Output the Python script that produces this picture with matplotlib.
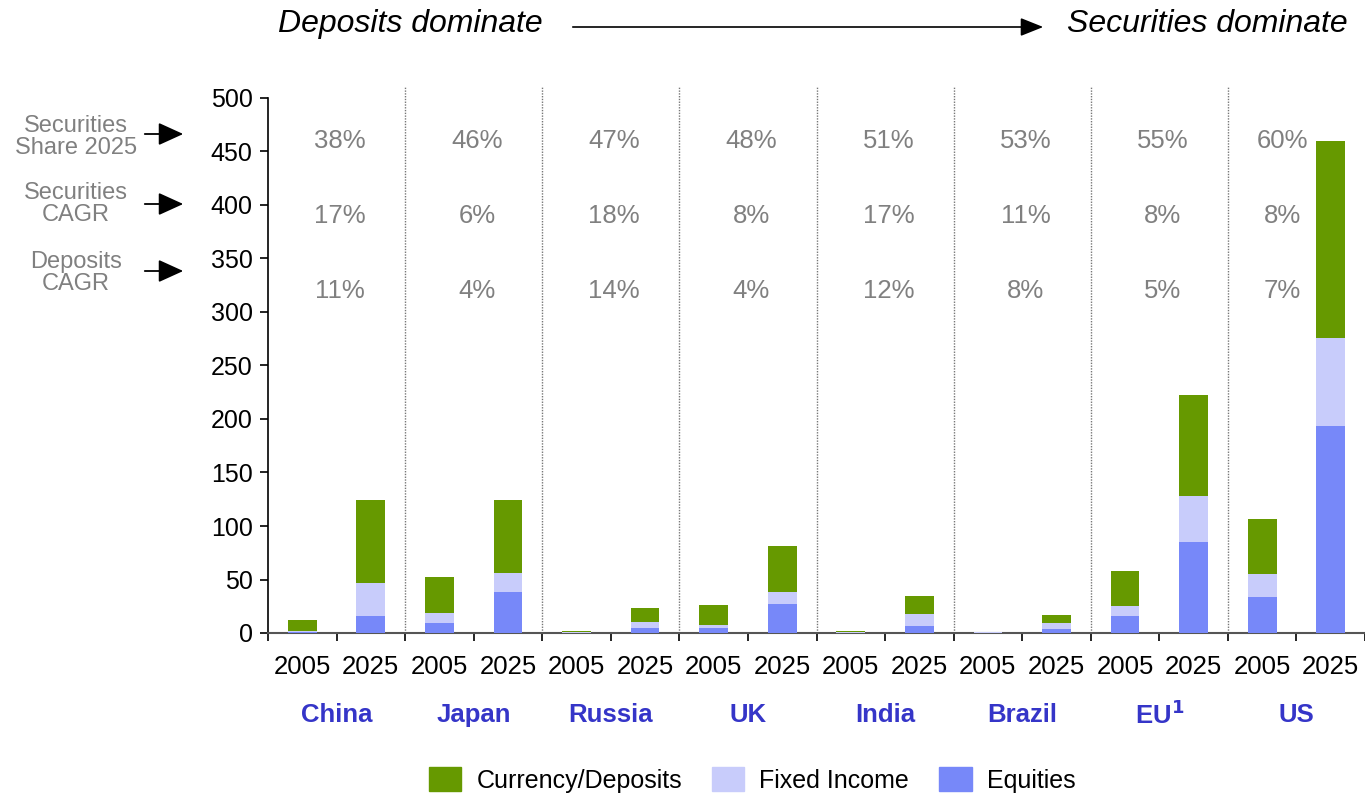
import numpy as np
import matplotlib.pyplot as plt
from matplotlib.patches import Patch, FancyArrowPatch
from matplotlib.transforms import blended_transform_factory

plt.rcParams['font.family'] = ['Liberation Sans', 'DejaVu Sans']

groups = ['China', 'Japan', 'Russia', 'UK', 'India', 'Brazil', 'EU$^{\\mathbf{1}}$', 'US']
years = ['2005', '2025']

# stacked values per bar, order: China 2005, China 2025, Japan 2005, ...
equities = [1, 16, 9, 38, 0.3, 4.5, 4.5, 27, 0.3, 6.5, 0.4, 4, 16, 85, 34, 193]
fixed_income = [0.5, 31, 9.5, 18, 0.2, 5.5, 3, 11, 0.2, 11, 0.2, 5, 9, 43, 21.5, 83]
deposits = [10.5, 77, 34, 68, 1, 13, 18.5, 43, 1, 17, 0.2, 7.5, 33, 94, 51, 184]

sec_share = ['38%', '46%', '47%', '48%', '51%', '53%', '55%', '60%']
sec_cagr = ['17%', '6%', '18%', '8%', '17%', '11%', '8%', '8%']
dep_cagr = ['11%', '4%', '14%', '4%', '12%', '8%', '5%', '7%']

c_dep = '#669900'
c_fi = '#c8ccfb'
c_eq = '#7788f9'
grey = '#808080'
blue_txt = '#3535c8'

fig = plt.figure(figsize=(13.65, 7.96), dpi=100)
ax = fig.add_axes([268 / 1365, 1 - 633 / 796, 1097 / 1365, 535 / 796])

x = np.arange(len(equities))
eq = np.array(equities)
fi = np.array(fixed_income)
dp = np.array(deposits)
w = 0.42
ax.bar(x, eq, w, color=c_eq, zorder=3)
ax.bar(x, fi, w, bottom=eq, color=c_fi, zorder=3)
ax.bar(x, dp, w, bottom=eq + fi, color=c_dep, zorder=3)

ax.set_xlim(-0.5, len(x) - 0.5)
ax.set_ylim(0, 500)
ax.set_yticks(np.arange(0, 501, 50))
ax.set_xticks(np.arange(-0.5, len(x), 1.0))
ax.set_xticklabels([])
ax.tick_params(axis='both', direction='out', length=6, width=1.2, labelsize=18, colors='black')
ax.tick_params(axis='y', pad=5)
for s in ['top', 'right']:
    ax.spines[s].set_visible(False)
ax.spines['left'].set_linewidth(1.2)
ax.spines['bottom'].set_linewidth(1.5)
ax.spines['bottom'].set_color('#555555')

# group separators
for b in np.arange(1.5, len(x) - 1, 2):
    ax.axvline(b, ymin=0, ymax=1.02, color='#777777', lw=1, ls=(0, (1, 1)), clip_on=False, zorder=1)

tr = blended_transform_factory(ax.transData, ax.transAxes)
for i in x:
    ax.text(i, -0.064, years[i % 2], transform=tr, ha='center', va='center', fontsize=18.5)
for g, name in enumerate(groups):
    cx = 2 * g + 0.5
    ax.text(cx, -0.153, name, transform=tr, ha='center', va='center', fontsize=18.5,
            fontweight='bold', color=blue_txt)
    lx = cx - 0.2 if g == len(groups) - 1 else cx + 0.05
    ax.text(lx, 460, sec_share[g], ha='center', va='center', fontsize=18.5, color=grey)
    ax.text(lx, 390, sec_cagr[g], ha='center', va='center', fontsize=18.5, color=grey)
    ax.text(lx, 320, dep_cagr[g], ha='center', va='center', fontsize=18.5, color=grey)

# row captions on the left
captions = [('Securities\nShare 2025', 137, 134), ('Securities\nCAGR', 204, 204), ('Deposits\nCAGR', 273, 271)]
for txt, ty, ay in captions:
    fig.text(76 / 1365, 1 - ty / 796, txt, ha='center', va='center', fontsize=17, color=grey,
             linespacing=1.0)
    fig.patches.append(FancyArrowPatch(
        (142 / 1365, 1 - ay / 796), (186 / 1365, 1 - ay / 796), transform=fig.transFigure,
        arrowstyle='-|>,head_length=1.1,head_width=0.5', mutation_scale=14, color='black', lw=1.3))

# header
fig.text(278 / 1365, 1 - 24 / 796, 'Deposits dominate', ha='left', va='center', fontsize=23, style='italic')
fig.text(1348 / 1365, 1 - 24 / 796, 'Securities dominate', ha='right', va='center', fontsize=23, style='italic')
fig.patches.append(FancyArrowPatch(
    (570 / 1365, 1 - 27 / 796), (1046 / 1365, 1 - 27 / 796), transform=fig.transFigure,
    arrowstyle='-|>,head_length=1.0,head_width=0.4', mutation_scale=14, color='black', lw=1.2))

handles = [Patch(color=c_dep, label='Currency/Deposits'),
           Patch(color=c_fi, label='Fixed Income'),
           Patch(color=c_eq, label='Equities')]
fig.legend(handles=handles, loc='center', bbox_to_anchor=(752 / 1365, 1 - 780 / 796), ncol=3,
           frameon=False, fontsize=18, handlelength=1.3, handleheight=1.1, columnspacing=1.2,
           handletextpad=0.6)

fig.savefig('out.png', dpi=100)
